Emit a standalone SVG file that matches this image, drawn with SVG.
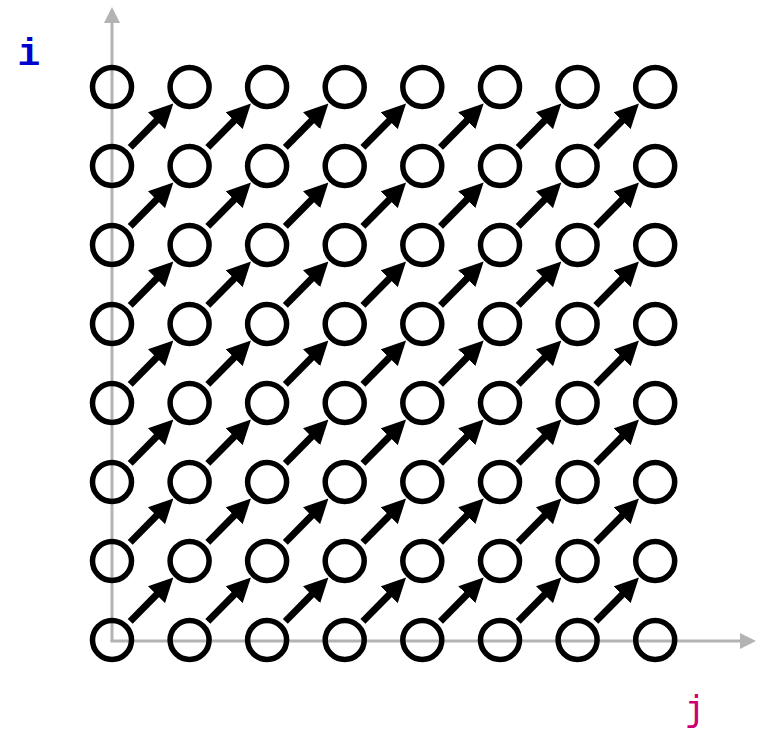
<svg xmlns="http://www.w3.org/2000/svg" xmlns:xlink="http://www.w3.org/1999/xlink" width="763" height="733" viewBox="0 0 763 733">
<style>
.axis{stroke:#b3b3b3;stroke-width:3;fill:none}
.node{fill:none;stroke:#000;stroke-width:5.5}
.lbl{font-family:"Liberation Mono","DejaVu Sans Mono",monospace;font-size:38px;text-anchor:middle}
.lj{font-family:"DejaVu Sans Mono","Liberation Mono",monospace;font-size:36px;text-anchor:middle}
</style>
<defs>
<marker id="ah" markerUnits="userSpaceOnUse" markerWidth="24" markerHeight="24" viewBox="0 0 24 24" refX="1" refY="12" orient="auto"><path d="M0,0 L24,12 L0,24 z" fill="#000"/></marker>
<marker id="gh" markerUnits="userSpaceOnUse" markerWidth="16" markerHeight="16" viewBox="0 0 16 16" refX="1" refY="8" orient="auto"><path d="M0,0 L16,8 L0,16 z" fill="#b3b3b3"/></marker>
<path id="arr" d="M18.2,-18.6 L45.2,-46.0" stroke="#000" stroke-width="7" fill="none" marker-end="url(#ah)"/>
</defs>
<g id="axes">
<path class="axis" d="M112,641 L112,22" marker-end="url(#gh)"/>
<path class="axis" d="M110.5,641 L741,641" marker-end="url(#gh)"/>
<text class="lbl" x="29" y="65" fill="#0000cc" font-weight="bold">i</text>
<text class="lj" x="695" y="721" fill="#cc0070">j</text>
</g>
<g id="connectors">
<use xlink:href="#arr" x="112" y="166"/><use xlink:href="#arr" x="189.6" y="166"/><use xlink:href="#arr" x="267.1" y="166"/><use xlink:href="#arr" x="344.7" y="166"/><use xlink:href="#arr" x="422.3" y="166"/><use xlink:href="#arr" x="500" y="166"/><use xlink:href="#arr" x="577.6" y="166"/>
<use xlink:href="#arr" x="112" y="245"/><use xlink:href="#arr" x="189.6" y="245"/><use xlink:href="#arr" x="267.1" y="245"/><use xlink:href="#arr" x="344.7" y="245"/><use xlink:href="#arr" x="422.3" y="245"/><use xlink:href="#arr" x="500" y="245"/><use xlink:href="#arr" x="577.6" y="245"/>
<use xlink:href="#arr" x="112" y="324"/><use xlink:href="#arr" x="189.6" y="324"/><use xlink:href="#arr" x="267.1" y="324"/><use xlink:href="#arr" x="344.7" y="324"/><use xlink:href="#arr" x="422.3" y="324"/><use xlink:href="#arr" x="500" y="324"/><use xlink:href="#arr" x="577.6" y="324"/>
<use xlink:href="#arr" x="112" y="403"/><use xlink:href="#arr" x="189.6" y="403"/><use xlink:href="#arr" x="267.1" y="403"/><use xlink:href="#arr" x="344.7" y="403"/><use xlink:href="#arr" x="422.3" y="403"/><use xlink:href="#arr" x="500" y="403"/><use xlink:href="#arr" x="577.6" y="403"/>
<use xlink:href="#arr" x="112" y="482"/><use xlink:href="#arr" x="189.6" y="482"/><use xlink:href="#arr" x="267.1" y="482"/><use xlink:href="#arr" x="344.7" y="482"/><use xlink:href="#arr" x="422.3" y="482"/><use xlink:href="#arr" x="500" y="482"/><use xlink:href="#arr" x="577.6" y="482"/>
<use xlink:href="#arr" x="112" y="561"/><use xlink:href="#arr" x="189.6" y="561"/><use xlink:href="#arr" x="267.1" y="561"/><use xlink:href="#arr" x="344.7" y="561"/><use xlink:href="#arr" x="422.3" y="561"/><use xlink:href="#arr" x="500" y="561"/><use xlink:href="#arr" x="577.6" y="561"/>
<use xlink:href="#arr" x="112" y="640"/><use xlink:href="#arr" x="189.6" y="640"/><use xlink:href="#arr" x="267.1" y="640"/><use xlink:href="#arr" x="344.7" y="640"/><use xlink:href="#arr" x="422.3" y="640"/><use xlink:href="#arr" x="500" y="640"/><use xlink:href="#arr" x="577.6" y="640"/>
</g>
<g id="nodes">
<g id="r7"><circle class="node" cx="112" cy="87" r="19.5"/><circle class="node" cx="189.6" cy="87" r="19.5"/><circle class="node" cx="267.1" cy="87" r="19.5"/><circle class="node" cx="344.7" cy="87" r="19.5"/><circle class="node" cx="422.3" cy="87" r="19.5"/><circle class="node" cx="500" cy="87" r="19.5"/><circle class="node" cx="577.6" cy="87" r="19.5"/><circle class="node" cx="655.2" cy="87" r="19.5"/></g>
<g id="r6"><circle class="node" cx="112" cy="166" r="19.5"/><circle class="node" cx="189.6" cy="166" r="19.5"/><circle class="node" cx="267.1" cy="166" r="19.5"/><circle class="node" cx="344.7" cy="166" r="19.5"/><circle class="node" cx="422.3" cy="166" r="19.5"/><circle class="node" cx="500" cy="166" r="19.5"/><circle class="node" cx="577.6" cy="166" r="19.5"/><circle class="node" cx="655.2" cy="166" r="19.5"/></g>
<g id="r5"><circle class="node" cx="112" cy="245" r="19.5"/><circle class="node" cx="189.6" cy="245" r="19.5"/><circle class="node" cx="267.1" cy="245" r="19.5"/><circle class="node" cx="344.7" cy="245" r="19.5"/><circle class="node" cx="422.3" cy="245" r="19.5"/><circle class="node" cx="500" cy="245" r="19.5"/><circle class="node" cx="577.6" cy="245" r="19.5"/><circle class="node" cx="655.2" cy="245" r="19.5"/></g>
<g id="r4"><circle class="node" cx="112" cy="324" r="19.5"/><circle class="node" cx="189.6" cy="324" r="19.5"/><circle class="node" cx="267.1" cy="324" r="19.5"/><circle class="node" cx="344.7" cy="324" r="19.5"/><circle class="node" cx="422.3" cy="324" r="19.5"/><circle class="node" cx="500" cy="324" r="19.5"/><circle class="node" cx="577.6" cy="324" r="19.5"/><circle class="node" cx="655.2" cy="324" r="19.5"/></g>
<g id="r3"><circle class="node" cx="112" cy="403" r="19.5"/><circle class="node" cx="189.6" cy="403" r="19.5"/><circle class="node" cx="267.1" cy="403" r="19.5"/><circle class="node" cx="344.7" cy="403" r="19.5"/><circle class="node" cx="422.3" cy="403" r="19.5"/><circle class="node" cx="500" cy="403" r="19.5"/><circle class="node" cx="577.6" cy="403" r="19.5"/><circle class="node" cx="655.2" cy="403" r="19.5"/></g>
<g id="r2"><circle class="node" cx="112" cy="482" r="19.5"/><circle class="node" cx="189.6" cy="482" r="19.5"/><circle class="node" cx="267.1" cy="482" r="19.5"/><circle class="node" cx="344.7" cy="482" r="19.5"/><circle class="node" cx="422.3" cy="482" r="19.5"/><circle class="node" cx="500" cy="482" r="19.5"/><circle class="node" cx="577.6" cy="482" r="19.5"/><circle class="node" cx="655.2" cy="482" r="19.5"/></g>
<g id="r1"><circle class="node" cx="112" cy="561" r="19.5"/><circle class="node" cx="189.6" cy="561" r="19.5"/><circle class="node" cx="267.1" cy="561" r="19.5"/><circle class="node" cx="344.7" cy="561" r="19.5"/><circle class="node" cx="422.3" cy="561" r="19.5"/><circle class="node" cx="500" cy="561" r="19.5"/><circle class="node" cx="577.6" cy="561" r="19.5"/><circle class="node" cx="655.2" cy="561" r="19.5"/></g>
<g id="r0"><circle class="node" cx="112" cy="640" r="19.5"/><circle class="node" cx="189.6" cy="640" r="19.5"/><circle class="node" cx="267.1" cy="640" r="19.5"/><circle class="node" cx="344.7" cy="640" r="19.5"/><circle class="node" cx="422.3" cy="640" r="19.5"/><circle class="node" cx="500" cy="640" r="19.5"/><circle class="node" cx="577.6" cy="640" r="19.5"/><circle class="node" cx="655.2" cy="640" r="19.5"/></g>
</g>
</svg>
